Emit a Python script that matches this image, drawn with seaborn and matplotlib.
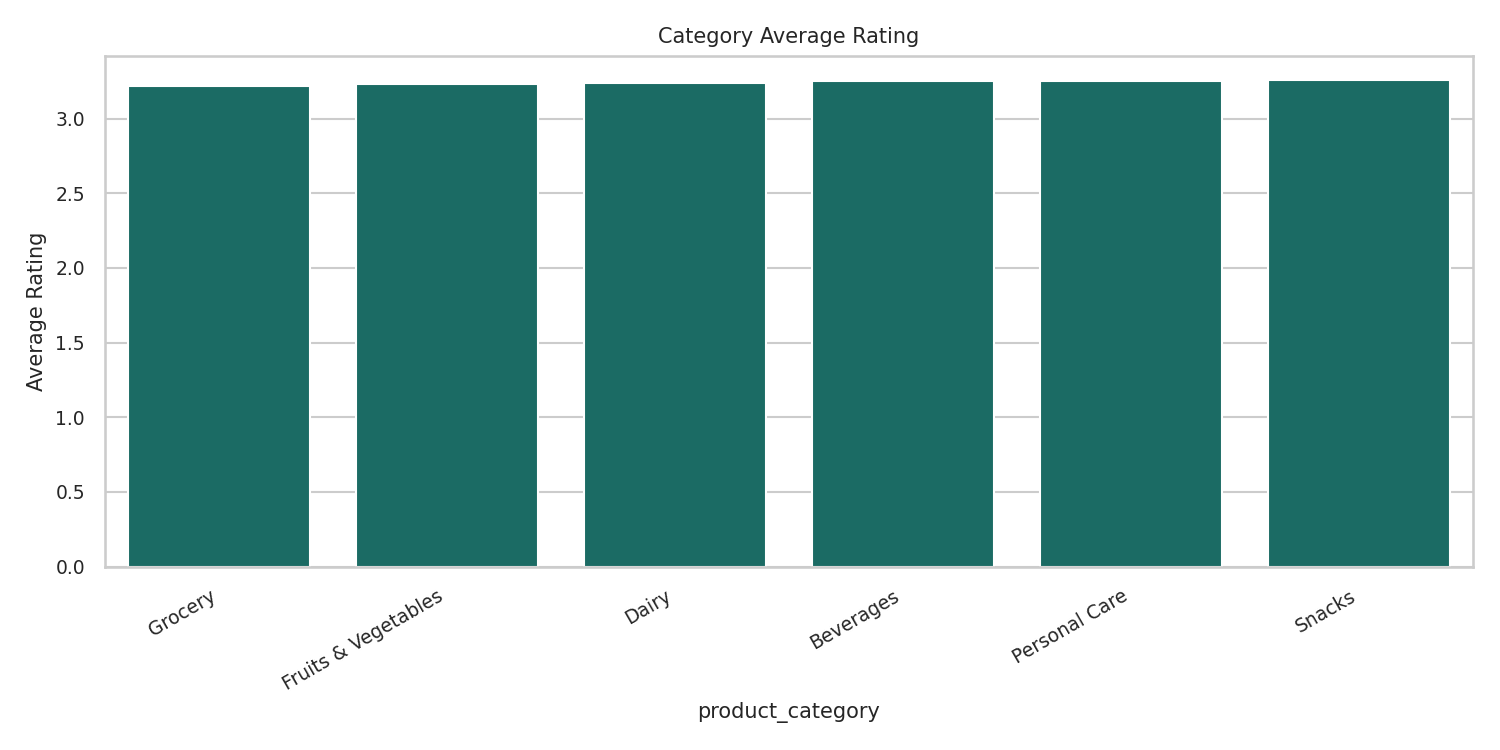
import pandas as pd
import matplotlib
matplotlib.use("Agg")
import matplotlib.pyplot as plt
import seaborn as sns

# valeurs
categories = ["Grocery", "Fruits & Vegetables", "Dairy", "Beverages", "Personal Care", "Snacks"]
avg_rating = [3.22, 3.23, 3.24, 3.25, 3.255, 3.26]

df = pd.DataFrame({"product_category": categories, "rating": avg_rating})

sns.set_theme(style="whitegrid")
fig, ax = plt.subplots(figsize=(10, 5), dpi=150)
sns.barplot(data=df, x="product_category", y="rating", color="#1b6b64", saturation=1, ax=ax)
ax.set_title("Category Average Rating", fontsize=10)
ax.set_ylabel("Average Rating", fontsize=10)
ax.set_xlabel("product_category", fontsize=10)
ax.tick_params(labelsize=9)
plt.setp(ax.get_xticklabels(), rotation=30, ha="right")
plt.tight_layout()
plt.savefig("out.png")
